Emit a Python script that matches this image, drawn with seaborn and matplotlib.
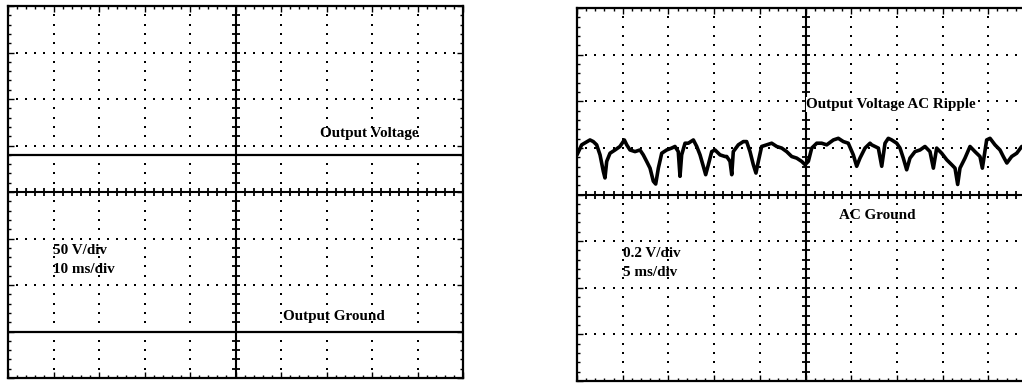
import numpy as np
import matplotlib
matplotlib.use("Agg")
import matplotlib.pyplot as plt
import seaborn as sns

# Scope settings (per division)
left_ms_per_div = 10
left_v_per_div = 50
right_ms_per_div = 5
right_mv_per_div = 200

# DC output trace and its ground reference (left screen)
dc_time_ms = [0, 100]
dc_output_v = [190, 190]
dc_ground_v = [0, 0]

# AC-coupled ripple trace (right screen)
ripple_time_ms = [
    0.00, 0.51, 1.42, 1.78, 2.15, 2.52, 2.88, 3.06, 3.25, 3.61, 4.16, 4.70,
    5.18, 5.44, 5.80, 6.35, 6.89, 7.25, 7.62, 7.99, 8.35, 8.61, 8.90, 9.27,
    9.81, 10.35, 10.72, 11.08, 11.27, 11.45, 11.82, 12.18, 12.73, 13.10, 13.46,
    13.82, 14.08, 14.37, 14.74, 15.10, 15.65, 16.19, 16.38, 16.74, 16.93,
    17.10, 17.65, 18.20, 18.56, 18.93, 19.29, 19.58, 19.84, 20.20, 20.75,
    21.30, 21.85, 22.40, 22.94, 23.49, 24.04, 24.58, 24.95, 25.31, 25.68,
    26.23, 26.77, 27.32, 28.05, 28.59, 29.14, 29.68, 30.23, 30.60, 30.96,
    31.51, 32.06, 32.24, 32.97, 33.34, 33.70, 34.06, 34.43, 34.98, 35.34,
    35.70, 36.07, 36.43, 36.98, 37.53, 38.07, 38.62, 38.99, 39.35, 39.90,
    40.45, 40.99, 41.36, 41.65, 41.90, 42.45, 43.00, 43.54, 44.09, 44.35,
    44.82, 45.19, 45.73, 46.28, 46.64, 47.03, 47.56, 48.11, 48.66,
]
ripple_mv = [
    170, 213, 234, 227, 213, 170, 99, 71, 142, 177, 191, 206,
    234, 213, 191, 184, 191, 170, 142, 113, 57, 45, 113, 177,
    191, 199, 206, 184, 78, 170, 220, 220, 234, 206, 170,
    121, 85, 128, 184, 191, 170, 163, 163, 142, 85,
    184, 213, 227, 227, 184, 128, 92, 142, 206, 213,
    220, 206, 199, 184, 163, 156, 142, 128, 142, 199,
    220, 220, 213, 234, 241, 227, 220, 170, 121, 156,
    199, 220, 213, 199, 121, 220, 241, 234, 220, 199,
    156, 106, 156, 184, 191, 206, 184, 113, 199, 177,
    149, 128, 113, 43, 113, 156, 206, 184, 163, 113,
    234, 241, 213, 191, 163, 135, 163, 177, 206,
]

sns.set_theme(style="white")
plt.rcParams["font.family"] = ["Liberation Serif", "DejaVu Serif"]

fig = plt.figure(figsize=(10.22, 3.83), dpi=100)
ax_dc = fig.add_axes([8 / 1022, 5 / 383, 455 / 1022, 372 / 383])
ax_ac = fig.add_axes([577 / 1022, 2 / 383, 457 / 1022, 373 / 383])


def graticule(ax, x0, xdiv, y0, ydiv):
    """10 x 8 division scope graticule with dotted grid and ticked crosshair."""
    nx, ny = 10, 8
    ax.set_xlim(x0, x0 + nx * xdiv)
    ax.set_ylim(y0, y0 + ny * ydiv)
    minor_x = x0 + np.arange(nx * 5 + 1) * xdiv / 5
    minor_y = y0 + np.arange(ny * 5 + 1) * ydiv / 5
    xc = x0 + 5 * xdiv
    yc = y0 + 4 * ydiv
    dot = dict(ls="none", marker="s", ms=1.8, mew=0, color="black", zorder=1)
    for i in range(1, nx):
        if i != 5:
            xv = x0 + i * xdiv
            ax.plot(np.full(len(minor_y) - 2, xv), minor_y[1:-1], **dot)
    for j in range(1, ny):
        if j != 4:
            yv = y0 + j * ydiv
            ax.plot(minor_x[1:-1], np.full(len(minor_x) - 2, yv), **dot)
    # Crosshair through the screen centre, with tick marks every minor division
    ax.axhline(yc, color="black", lw=1.5, zorder=2)
    ax.axvline(xc, color="black", lw=1.5, zorder=2)
    ax.plot(minor_x, np.full(len(minor_x), yc), ls="none", marker="|",
            ms=5.5, mew=1.3, color="black", zorder=2)
    ax.plot(np.full(len(minor_y), xc), minor_y, ls="none", marker="_",
            ms=5.5, mew=1.3, color="black", zorder=2)
    # Frame with inward ticks
    ax.set_xticks(x0 + np.arange(nx + 1) * xdiv)
    ax.set_yticks(y0 + np.arange(ny + 1) * ydiv)
    ax.set_xticks(minor_x, minor=True)
    ax.set_yticks(minor_y, minor=True)
    ax.tick_params(which="both", direction="in", bottom=True, top=True,
                   left=True, right=True, labelbottom=False, labelleft=False,
                   color="black", width=1.0)
    ax.tick_params(which="major", length=4)
    ax.tick_params(which="minor", length=2.5)
    for sp in ax.spines.values():
        sp.set_color("black")
        sp.set_linewidth(1.6)
    ax.set_xlabel("")
    ax.set_ylabel("")


label_kw = dict(fontsize=10.9, fontweight="bold", color="black",
                family=["Liberation Serif", "DejaVu Serif"], va="baseline",
                ha="left", zorder=5)

# Left screen: DC output, 50 V/div, 10 ms/div, ground 3 divisions below centre
sns.lineplot(x=dc_time_ms, y=dc_output_v, ax=ax_dc, color="black", lw=1.6,
             zorder=4)
sns.lineplot(x=dc_time_ms, y=dc_ground_v, ax=ax_dc, color="black", lw=1.6,
             zorder=4)
graticule(ax_dc, 0, left_ms_per_div, -50, left_v_per_div)
ax_dc.text(68.6, 209, "Output Voltage", **label_kw)
ax_dc.text(60.4, 12.4, "Output Ground", **label_kw)
ax_dc.text(9.9, 83.3, "50 V/div", **label_kw)
ax_dc.text(9.9, 62.9, "10 ms/div", **label_kw)

# Right screen: AC ripple, 0.2 V/div, 5 ms/div, ground at centre
sns.lineplot(x=ripple_time_ms, y=ripple_mv, ax=ax_ac, color="black", lw=2.6,
             zorder=4)
graticule(ax_ac, 0, right_ms_per_div, -4 * right_mv_per_div, right_mv_per_div)
ax_ac.text(25.1, 371, "Output Voltage AC Ripple",
           bbox=dict(facecolor="white", edgecolor="none", pad=0.5), **label_kw)
ax_ac.text(28.7, -106, "AC Ground", **label_kw)
ax_ac.text(5.07, -267, "0.2 V/div", **label_kw)
ax_ac.text(5.07, -350, "5 ms/div", **label_kw)

fig.savefig("out.png", dpi=100)
